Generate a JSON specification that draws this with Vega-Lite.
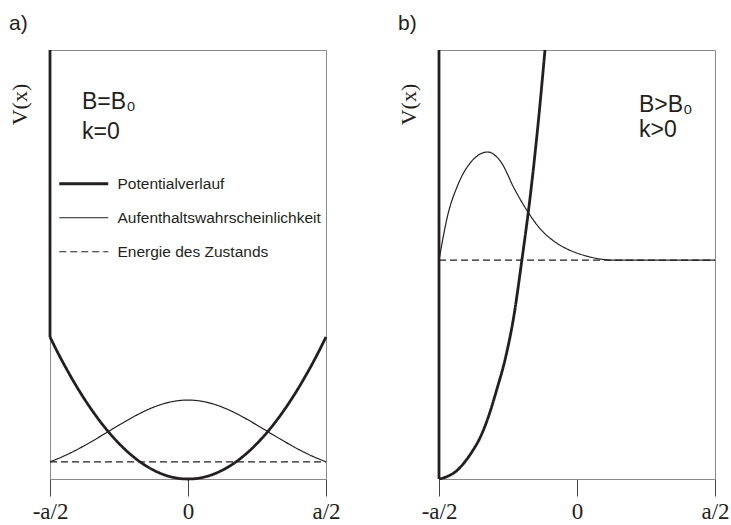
{
  "$schema": "https://vega.github.io/schema/vega-lite/v6.json",
  "background": "white",
  "padding": {"left": 7, "top": 12, "right": 0, "bottom": 0},
  "bounds": "flush",
  "spacing": 113,
  "config": {
    "view": {"stroke": "#8a8a8a", "strokeWidth": 1},
    "axis": {"grid": false}
  },
  "datasets": {
    "curves": [
      {"panel": "a", "series": "Potentialverlauf", "seg": "a-wall", "x": -0.5, "y": 1.0},
      {"panel": "a", "series": "Potentialverlauf", "seg": "a-wall", "x": -0.5, "y": 0.331},
      {"panel": "a", "series": "Potentialverlauf", "seg": "a-pot", "x": -0.5, "y": 0.331},
      {"panel": "a", "series": "Potentialverlauf", "seg": "a-pot", "x": -0.475, "y": 0.2987},
      {"panel": "a", "series": "Potentialverlauf", "seg": "a-pot", "x": -0.45, "y": 0.2681},
      {"panel": "a", "series": "Potentialverlauf", "seg": "a-pot", "x": -0.425, "y": 0.2392},
      {"panel": "a", "series": "Potentialverlauf", "seg": "a-pot", "x": -0.4, "y": 0.2118},
      {"panel": "a", "series": "Potentialverlauf", "seg": "a-pot", "x": -0.375, "y": 0.1862},
      {"panel": "a", "series": "Potentialverlauf", "seg": "a-pot", "x": -0.35, "y": 0.1622},
      {"panel": "a", "series": "Potentialverlauf", "seg": "a-pot", "x": -0.325, "y": 0.1398},
      {"panel": "a", "series": "Potentialverlauf", "seg": "a-pot", "x": -0.3, "y": 0.1192},
      {"panel": "a", "series": "Potentialverlauf", "seg": "a-pot", "x": -0.275, "y": 0.1001},
      {"panel": "a", "series": "Potentialverlauf", "seg": "a-pot", "x": -0.25, "y": 0.0828},
      {"panel": "a", "series": "Potentialverlauf", "seg": "a-pot", "x": -0.225, "y": 0.067},
      {"panel": "a", "series": "Potentialverlauf", "seg": "a-pot", "x": -0.2, "y": 0.053},
      {"panel": "a", "series": "Potentialverlauf", "seg": "a-pot", "x": -0.175, "y": 0.0405},
      {"panel": "a", "series": "Potentialverlauf", "seg": "a-pot", "x": -0.15, "y": 0.0298},
      {"panel": "a", "series": "Potentialverlauf", "seg": "a-pot", "x": -0.125, "y": 0.0207},
      {"panel": "a", "series": "Potentialverlauf", "seg": "a-pot", "x": -0.1, "y": 0.0132},
      {"panel": "a", "series": "Potentialverlauf", "seg": "a-pot", "x": -0.075, "y": 0.0074},
      {"panel": "a", "series": "Potentialverlauf", "seg": "a-pot", "x": -0.05, "y": 0.0033},
      {"panel": "a", "series": "Potentialverlauf", "seg": "a-pot", "x": -0.025, "y": 0.0008},
      {"panel": "a", "series": "Potentialverlauf", "seg": "a-pot", "x": 0.0, "y": 0.0},
      {"panel": "a", "series": "Potentialverlauf", "seg": "a-pot", "x": 0.025, "y": 0.0008},
      {"panel": "a", "series": "Potentialverlauf", "seg": "a-pot", "x": 0.05, "y": 0.0033},
      {"panel": "a", "series": "Potentialverlauf", "seg": "a-pot", "x": 0.075, "y": 0.0074},
      {"panel": "a", "series": "Potentialverlauf", "seg": "a-pot", "x": 0.1, "y": 0.0132},
      {"panel": "a", "series": "Potentialverlauf", "seg": "a-pot", "x": 0.125, "y": 0.0207},
      {"panel": "a", "series": "Potentialverlauf", "seg": "a-pot", "x": 0.15, "y": 0.0298},
      {"panel": "a", "series": "Potentialverlauf", "seg": "a-pot", "x": 0.175, "y": 0.0405},
      {"panel": "a", "series": "Potentialverlauf", "seg": "a-pot", "x": 0.2, "y": 0.053},
      {"panel": "a", "series": "Potentialverlauf", "seg": "a-pot", "x": 0.225, "y": 0.067},
      {"panel": "a", "series": "Potentialverlauf", "seg": "a-pot", "x": 0.25, "y": 0.0828},
      {"panel": "a", "series": "Potentialverlauf", "seg": "a-pot", "x": 0.275, "y": 0.1001},
      {"panel": "a", "series": "Potentialverlauf", "seg": "a-pot", "x": 0.3, "y": 0.1192},
      {"panel": "a", "series": "Potentialverlauf", "seg": "a-pot", "x": 0.325, "y": 0.1398},
      {"panel": "a", "series": "Potentialverlauf", "seg": "a-pot", "x": 0.35, "y": 0.1622},
      {"panel": "a", "series": "Potentialverlauf", "seg": "a-pot", "x": 0.375, "y": 0.1862},
      {"panel": "a", "series": "Potentialverlauf", "seg": "a-pot", "x": 0.4, "y": 0.2118},
      {"panel": "a", "series": "Potentialverlauf", "seg": "a-pot", "x": 0.425, "y": 0.2392},
      {"panel": "a", "series": "Potentialverlauf", "seg": "a-pot", "x": 0.45, "y": 0.2681},
      {"panel": "a", "series": "Potentialverlauf", "seg": "a-pot", "x": 0.475, "y": 0.2987},
      {"panel": "a", "series": "Potentialverlauf", "seg": "a-pot", "x": 0.5, "y": 0.331},
      {"panel": "a", "series": "Aufenthaltswahrscheinlichkeit", "seg": "a-wahr", "x": -0.5, "y": 0.04},
      {"panel": "a", "series": "Aufenthaltswahrscheinlichkeit", "seg": "a-wahr", "x": -0.45, "y": 0.0534},
      {"panel": "a", "series": "Aufenthaltswahrscheinlichkeit", "seg": "a-wahr", "x": -0.4, "y": 0.0692},
      {"panel": "a", "series": "Aufenthaltswahrscheinlichkeit", "seg": "a-wahr", "x": -0.35, "y": 0.0871},
      {"panel": "a", "series": "Aufenthaltswahrscheinlichkeit", "seg": "a-wahr", "x": -0.3, "y": 0.1062},
      {"panel": "a", "series": "Aufenthaltswahrscheinlichkeit", "seg": "a-wahr", "x": -0.25, "y": 0.1256},
      {"panel": "a", "series": "Aufenthaltswahrscheinlichkeit", "seg": "a-wahr", "x": -0.2, "y": 0.1441},
      {"panel": "a", "series": "Aufenthaltswahrscheinlichkeit", "seg": "a-wahr", "x": -0.15, "y": 0.1604},
      {"panel": "a", "series": "Aufenthaltswahrscheinlichkeit", "seg": "a-wahr", "x": -0.1, "y": 0.1731},
      {"panel": "a", "series": "Aufenthaltswahrscheinlichkeit", "seg": "a-wahr", "x": -0.05, "y": 0.1812},
      {"panel": "a", "series": "Aufenthaltswahrscheinlichkeit", "seg": "a-wahr", "x": 0.0, "y": 0.184},
      {"panel": "a", "series": "Aufenthaltswahrscheinlichkeit", "seg": "a-wahr", "x": 0.05, "y": 0.1812},
      {"panel": "a", "series": "Aufenthaltswahrscheinlichkeit", "seg": "a-wahr", "x": 0.1, "y": 0.1731},
      {"panel": "a", "series": "Aufenthaltswahrscheinlichkeit", "seg": "a-wahr", "x": 0.15, "y": 0.1604},
      {"panel": "a", "series": "Aufenthaltswahrscheinlichkeit", "seg": "a-wahr", "x": 0.2, "y": 0.1441},
      {"panel": "a", "series": "Aufenthaltswahrscheinlichkeit", "seg": "a-wahr", "x": 0.25, "y": 0.1256},
      {"panel": "a", "series": "Aufenthaltswahrscheinlichkeit", "seg": "a-wahr", "x": 0.3, "y": 0.1062},
      {"panel": "a", "series": "Aufenthaltswahrscheinlichkeit", "seg": "a-wahr", "x": 0.35, "y": 0.0871},
      {"panel": "a", "series": "Aufenthaltswahrscheinlichkeit", "seg": "a-wahr", "x": 0.4, "y": 0.0692},
      {"panel": "a", "series": "Aufenthaltswahrscheinlichkeit", "seg": "a-wahr", "x": 0.45, "y": 0.0534},
      {"panel": "a", "series": "Aufenthaltswahrscheinlichkeit", "seg": "a-wahr", "x": 0.5, "y": 0.04},
      {"panel": "a", "series": "Energie des Zustands", "seg": "a-en", "x": -0.5, "y": 0.04},
      {"panel": "a", "series": "Energie des Zustands", "seg": "a-en", "x": 0.5, "y": 0.04},
      {"panel": "b", "series": "Potentialverlauf", "seg": "b-wall", "x": -0.5, "y": 1.0},
      {"panel": "b", "series": "Potentialverlauf", "seg": "b-wall", "x": -0.5, "y": 0.0},
      {"panel": "b", "series": "Potentialverlauf", "seg": "b-pot", "x": -0.5, "y": 0.0},
      {"panel": "b", "series": "Potentialverlauf", "seg": "b-pot", "x": -0.47, "y": 0.006},
      {"panel": "b", "series": "Potentialverlauf", "seg": "b-pot", "x": -0.44, "y": 0.017},
      {"panel": "b", "series": "Potentialverlauf", "seg": "b-pot", "x": -0.41, "y": 0.037},
      {"panel": "b", "series": "Potentialverlauf", "seg": "b-pot", "x": -0.38, "y": 0.064},
      {"panel": "b", "series": "Potentialverlauf", "seg": "b-pot", "x": -0.35, "y": 0.098},
      {"panel": "b", "series": "Potentialverlauf", "seg": "b-pot", "x": -0.32, "y": 0.147},
      {"panel": "b", "series": "Potentialverlauf", "seg": "b-pot", "x": -0.29, "y": 0.21},
      {"panel": "b", "series": "Potentialverlauf", "seg": "b-pot", "x": -0.26, "y": 0.28},
      {"panel": "b", "series": "Potentialverlauf", "seg": "b-pot", "x": -0.23, "y": 0.375},
      {"panel": "b", "series": "Potentialverlauf", "seg": "b-pot", "x": -0.2, "y": 0.509},
      {"panel": "b", "series": "Potentialverlauf", "seg": "b-pot", "x": -0.17, "y": 0.656},
      {"panel": "b", "series": "Potentialverlauf", "seg": "b-pot", "x": -0.14, "y": 0.834},
      {"panel": "b", "series": "Potentialverlauf", "seg": "b-pot", "x": -0.116, "y": 1.0},
      {"panel": "b", "series": "Aufenthaltswahrscheinlichkeit", "seg": "b-wahr", "x": -0.5, "y": 0.51},
      {"panel": "b", "series": "Aufenthaltswahrscheinlichkeit", "seg": "b-wahr", "x": -0.4685, "y": 0.6146},
      {"panel": "b", "series": "Aufenthaltswahrscheinlichkeit", "seg": "b-wahr", "x": -0.4322, "y": 0.6846},
      {"panel": "b", "series": "Aufenthaltswahrscheinlichkeit", "seg": "b-wahr", "x": -0.3841, "y": 0.7389},
      {"panel": "b", "series": "Aufenthaltswahrscheinlichkeit", "seg": "b-wahr", "x": -0.3236, "y": 0.7622},
      {"panel": "b", "series": "Aufenthaltswahrscheinlichkeit", "seg": "b-wahr", "x": -0.2754, "y": 0.7389},
      {"panel": "b", "series": "Aufenthaltswahrscheinlichkeit", "seg": "b-wahr", "x": -0.2272, "y": 0.6768},
      {"panel": "b", "series": "Aufenthaltswahrscheinlichkeit", "seg": "b-wahr", "x": -0.1786, "y": 0.6232},
      {"panel": "b", "series": "Aufenthaltswahrscheinlichkeit", "seg": "b-wahr", "x": -0.1304, "y": 0.581},
      {"panel": "b", "series": "Aufenthaltswahrscheinlichkeit", "seg": "b-wahr", "x": -0.0942, "y": 0.5595},
      {"panel": "b", "series": "Aufenthaltswahrscheinlichkeit", "seg": "b-wahr", "x": -0.06, "y": 0.5445},
      {"panel": "b", "series": "Aufenthaltswahrscheinlichkeit", "seg": "b-wahr", "x": -0.0217, "y": 0.532},
      {"panel": "b", "series": "Aufenthaltswahrscheinlichkeit", "seg": "b-wahr", "x": 0.0388, "y": 0.519},
      {"panel": "b", "series": "Aufenthaltswahrscheinlichkeit", "seg": "b-wahr", "x": 0.087, "y": 0.5125},
      {"panel": "b", "series": "Aufenthaltswahrscheinlichkeit", "seg": "b-wahr", "x": 0.13, "y": 0.5103},
      {"panel": "b", "series": "Aufenthaltswahrscheinlichkeit", "seg": "b-wahr", "x": 0.5, "y": 0.51},
      {"panel": "b", "series": "Energie des Zustands", "seg": "b-en", "x": -0.5, "y": 0.51},
      {"panel": "b", "series": "Energie des Zustands", "seg": "b-en", "x": 0.5, "y": 0.51}
    ],
    "notes": [
      {"panel": "a", "label": "B=B₀", "x": -0.384, "y": 0.8625},
      {"panel": "a", "label": "k=0", "x": -0.384, "y": 0.7925},
      {"panel": "b", "label": "B>B₀", "x": 0.2246, "y": 0.8555},
      {"panel": "b", "label": "k>0", "x": 0.2246, "y": 0.797}
    ],
    "panels": [
      {"panel": "a", "label": "a)", "x": -0.6486, "y": 1.0466},
      {"panel": "b", "label": "b)", "x": -0.6486, "y": 1.0466}
    ]
  },
  "resolve": {
    "scale": {"x": "independent", "y": "independent", "strokeWidth": "independent", "strokeDash": "independent"},
    "legend": {"strokeWidth": "independent", "strokeDash": "independent"}
  },
  "hconcat": [
    {
      "width": 276,
      "height": 429,
      "layer": [
        {
          "data": {"name": "curves"},
          "transform": [{"filter": "datum.panel === 'a'"}],
          "mark": {"type": "line", "interpolate": "monotone", "stroke": "#231f20"},
          "encoding": {
            "x": {"field": "x", "type": "quantitative", "scale": {"domain": [-0.5, 0.5], "nice": false, "zero": false},
              "axis": {"values": [-0.5, 0, 0.5], "labelExpr": "datum.value < 0 ? '-a/2' : (datum.value > 0 ? 'a/2' : '0')", "title": null, "grid": false, "domainColor": "#8a8a8a", "tickColor": "#444444", "tickSize": 17, "labelPadding": 22, "labelBaseline": "alphabetic", "labelFont": "Liberation Serif", "labelFontSize": 23, "labelColor": "#231f20", "labelFlush": false, "labelOverlap": false}},
            "y": {"field": "y", "type": "quantitative", "scale": {"domain": [0, 1], "nice": false, "zero": false},
              "axis": {"title": "V(x)", "ticks": false, "labels": false, "domain": false, "grid": false, "titleFont": "Liberation Serif", "titleFontSize": 22, "titleFontWeight": "normal", "titleColor": "#231f20", "titleAngle": 270, "titleX": -31, "titleY": 54, "titleAlign": "center", "titleBaseline": "middle"}},
            "detail": {"field": "seg"},
            "strokeWidth": {"field": "series", "type": "nominal",
              "scale": {"type": "ordinal", "domain": ["Potentialverlauf", "Aufenthaltswahrscheinlichkeit", "Energie des Zustands"], "range": [2.8, 1.2, 1.2]},
              "legend": {"title": null, "orient": "none", "legendX": 26, "legendY": 126, "padding": 0, "symbolType": "M-4.9,0H4.9", "symbolSize": 100, "symbolStrokeColor": "#231f20", "labelFont": "Liberation Sans", "labelFontSize": 15.5, "labelColor": "#231f20", "labelOffset": 26, "rowPadding": 17, "labelLimit": 400}},
            "strokeDash": {"field": "series", "type": "nominal",
              "scale": {"domain": ["Potentialverlauf", "Aufenthaltswahrscheinlichkeit", "Energie des Zustands"], "range": [[1, 0], [1, 0], [7, 4]]},
              "legend": {"title": null, "orient": "none", "legendX": 26, "legendY": 126, "padding": 0, "symbolType": "M-4.9,0H4.9", "symbolSize": 100, "symbolStrokeColor": "#231f20", "labelFont": "Liberation Sans", "labelFontSize": 15.5, "labelColor": "#231f20", "labelOffset": 26, "rowPadding": 17, "labelLimit": 400}}
          }
        },
        {
          "data": {"name": "notes"},
          "transform": [{"filter": "datum.panel === 'a'"}],
          "mark": {"type": "text", "align": "left", "baseline": "alphabetic", "font": "Liberation Sans", "fontSize": 23, "color": "#231f20"},
          "encoding": {
            "x": {"field": "x", "type": "quantitative", "scale": {"domain": [-0.5, 0.5], "nice": false, "zero": false}},
            "y": {"field": "y", "type": "quantitative", "scale": {"domain": [0, 1], "nice": false, "zero": false}},
            "text": {"field": "label"}
          }
        },
        {
          "data": {"name": "panels"},
          "transform": [{"filter": "datum.panel === 'a'"}],
          "mark": {"type": "text", "align": "left", "baseline": "alphabetic", "font": "Liberation Sans", "fontSize": 21, "color": "#231f20"},
          "encoding": {
            "x": {"field": "x", "type": "quantitative", "scale": {"domain": [-0.5, 0.5], "nice": false, "zero": false}},
            "y": {"field": "y", "type": "quantitative", "scale": {"domain": [0, 1], "nice": false, "zero": false}},
            "text": {"field": "label"}
          }
        }
      ]
    },
    {
      "width": 276,
      "height": 429,
      "layer": [
        {
          "data": {"name": "curves"},
          "transform": [{"filter": "datum.panel === 'b'"}],
          "mark": {"type": "line", "interpolate": "monotone", "stroke": "#231f20"},
          "encoding": {
            "x": {"field": "x", "type": "quantitative", "scale": {"domain": [-0.5, 0.5], "nice": false, "zero": false},
              "axis": {"values": [-0.5, 0, 0.5], "labelExpr": "datum.value < 0 ? '-a/2' : (datum.value > 0 ? 'a/2' : '0')", "title": null, "grid": false, "domainColor": "#8a8a8a", "tickColor": "#444444", "tickSize": 17, "labelPadding": 22, "labelBaseline": "alphabetic", "labelFont": "Liberation Serif", "labelFontSize": 23, "labelColor": "#231f20", "labelFlush": false, "labelOverlap": false}},
            "y": {"field": "y", "type": "quantitative", "scale": {"domain": [0, 1], "nice": false, "zero": false},
              "axis": {"title": "V(x)", "ticks": false, "labels": false, "domain": false, "grid": false, "titleFont": "Liberation Serif", "titleFontSize": 22, "titleFontWeight": "normal", "titleColor": "#231f20", "titleAngle": 270, "titleX": -31, "titleY": 54, "titleAlign": "center", "titleBaseline": "middle"}},
            "detail": {"field": "seg"},
            "strokeWidth": {"field": "series", "type": "nominal",
              "scale": {"type": "ordinal", "domain": ["Potentialverlauf", "Aufenthaltswahrscheinlichkeit", "Energie des Zustands"], "range": [2.8, 1.2, 1.2]},
              "legend": null},
            "strokeDash": {"field": "series", "type": "nominal",
              "scale": {"domain": ["Potentialverlauf", "Aufenthaltswahrscheinlichkeit", "Energie des Zustands"], "range": [[1, 0], [1, 0], [7, 4]]},
              "legend": null}
          }
        },
        {
          "data": {"name": "notes"},
          "transform": [{"filter": "datum.panel === 'b'"}],
          "mark": {"type": "text", "align": "left", "baseline": "alphabetic", "font": "Liberation Sans", "fontSize": 23, "color": "#231f20"},
          "encoding": {
            "x": {"field": "x", "type": "quantitative", "scale": {"domain": [-0.5, 0.5], "nice": false, "zero": false}},
            "y": {"field": "y", "type": "quantitative", "scale": {"domain": [0, 1], "nice": false, "zero": false}},
            "text": {"field": "label"}
          }
        },
        {
          "data": {"name": "panels"},
          "transform": [{"filter": "datum.panel === 'b'"}],
          "mark": {"type": "text", "align": "left", "baseline": "alphabetic", "font": "Liberation Sans", "fontSize": 21, "color": "#231f20"},
          "encoding": {
            "x": {"field": "x", "type": "quantitative", "scale": {"domain": [-0.5, 0.5], "nice": false, "zero": false}},
            "y": {"field": "y", "type": "quantitative", "scale": {"domain": [0, 1], "nice": false, "zero": false}},
            "text": {"field": "label"}
          }
        }
      ]
    }
  ]
}
